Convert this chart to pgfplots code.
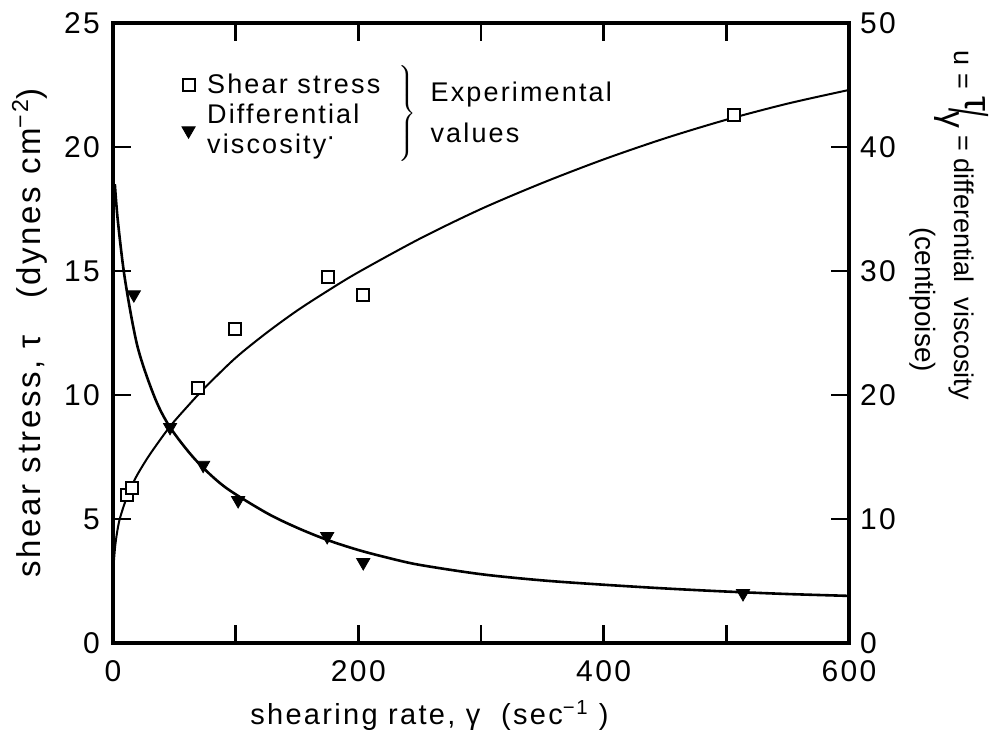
\documentclass[border=0pt]{standalone}
\usepackage{pgfplots}
\pgfplotsset{compat=1.18}
\usepackage{fontspec}
\setmainfont[LetterSpace=8]{Liberation Sans}
\newfontfamily\plainsans{Liberation Sans}
\begin{document}
\begin{tikzpicture}
\path[use as bounding box] (-56.5pt,-51.5pt) rectangle (441.5pt,321.5pt);
\pgfplotsset{
  every axis/.append style={
    scale only axis, width=368pt, height=310pt,
    xmin=0, xmax=600,
    axis line style={line width=2.3pt},
    tick style={line width=1.2pt, black},
    major tick length=9pt, minor tick length=9pt,
    tick align=inside,
    /pgf/number format/assume math mode=true,
    tick label style={font=\fontsize{15}{18}\selectfont},
    label style={font=\fontsize{14.5}{17}\selectfont},
  }
}
% left axis: shear stress
\begin{axis}[
  ymin=0, ymax=25,
  xtick={0,200,400,600}, minor xtick={100,300,500},
  ytick={0,5,10,15,20,25},
  xtick pos=both, xticklabel pos=bottom,
  ytick pos=left,
  xlabel={shearing rate, γ\ \ (sec\textsuperscript{−1} )},
  xlabel style={at={(rel axis cs:0.43,0)}, anchor=north, yshift=-25pt},
  ylabel={shear stress, τ\hspace{1.1em}(dynes cm\textsuperscript{−2})},
  ylabel style={at={(rel axis cs:-0.113,0.5)}, anchor=center, rotate=0, font=\fontsize{16.5}{18}\selectfont},
  xticklabel style={yshift=-5pt},
  yticklabel style={xshift=-3pt},
]
\addplot[black, line width=1pt, smooth, tension=0.5] coordinates {
 (0.3,3.0) (2,4.0) (5,4.9) (10,5.7) (15,6.3) (20,6.8) (30,7.6) (46,8.7)
 (60,9.5) (75,10.3) (100,11.5) (125,12.5) (150,13.4) (175,14.2) (200,14.95)
 (250,16.3) (300,17.5) (350,18.55) (400,19.5) (450,20.35) (500,21.1)
 (550,21.75) (600,22.3)};
\addplot[only marks, mark=square*, mark size=3pt, mark options={fill=white, draw=black, line width=1pt}] coordinates {
 (11.5,5.97) (15.5,6.25) (69.5,10.3) (99.5,12.66) (175,14.75) (204,14.03) (506,21.3)};
\end{axis}
% right axis: differential viscosity
\begin{axis}[
  clip=false,
  ymin=0, ymax=50,
  axis x line=none,
  axis y line*=right,
  ytick={0,10,20,30,40,50},
  ytick pos=right,
  yticklabel style={xshift=2pt},
  legend style={draw=none, fill=none, at={(rel axis cs:0.085,0.93)}, anchor=north west,
     font=\fontsize{13.5}{15}\selectfont, nodes={align=left, inner sep=1.5pt, inner xsep=6pt}, row sep=1pt},
  legend cell align=left,
]
\addlegendimage{only marks, mark=square*, mark size=3pt, mark options={fill=white, draw=black, line width=1pt}}
\addlegendentry{Shear stress}
\addlegendimage{only marks, mark=triangle*, mark size=3.8pt, mark options={rotate=180, fill=black}}
\addlegendentry{Differential\\viscosity\raisebox{0.6ex}{·}}
\addplot[black, line width=1.3pt, smooth, tension=0.5, forget plot] coordinates {
 (1.5,37) (4,34.0) (9.8,29.3) (20,23.9) (34,19.8) (46.5,17.4) (67,14.8)
 (91,12.6) (125,10.5) (150,9.3) (175,8.3) (200,7.5) (225,6.85) (250,6.3)
 (300,5.55) (350,5.05) (400,4.7) (450,4.4) (500,4.15) (550,3.95) (600,3.8)};
\addplot[only marks, mark=triangle*, mark size=3.8pt, mark options={rotate=180, fill=black}, forget plot] coordinates {
 (17,28.1) (46.5,17.4) (73.5,14.35) (102,11.5) (174.6,8.6) (204,6.5) (513.6,4.0)};
\node[font=\plainsans\fontsize{13.5}{16}\selectfont, rotate=-90, anchor=base west, inner sep=0pt] at (rel axis cs:1.1427,0.956)
  {u = \raisebox{0.8ex}{\scalebox{1.4}{τ}}\kern-0.12em\raisebox{-0.3ex}{\scalebox{1.1}[2.0]{/}}\kern-0.2em\raisebox{-0.9ex}{\scalebox{1.25}{γ}} = differential\ \ viscosity};
\node[font=\plainsans\fontsize{14}{16}\selectfont, rotate=-90, anchor=base west, inner sep=0pt] at (rel axis cs:1.0897,0.671)
  {(centipoise)};
\node[inner sep=0pt] at (rel axis cs:0.399,0.852) {$\left.\vrule height 23pt depth 23pt width 0pt\right\}$};
\node[font=\fontsize{13.5}{15}\selectfont, anchor=west, inner sep=0pt] at (rel axis cs:0.431,0.884) {Experimental};
\node[font=\fontsize{13.5}{15}\selectfont, anchor=west, inner sep=0pt] at (rel axis cs:0.431,0.823) {values};
\end{axis}
\end{tikzpicture}
\end{document}
